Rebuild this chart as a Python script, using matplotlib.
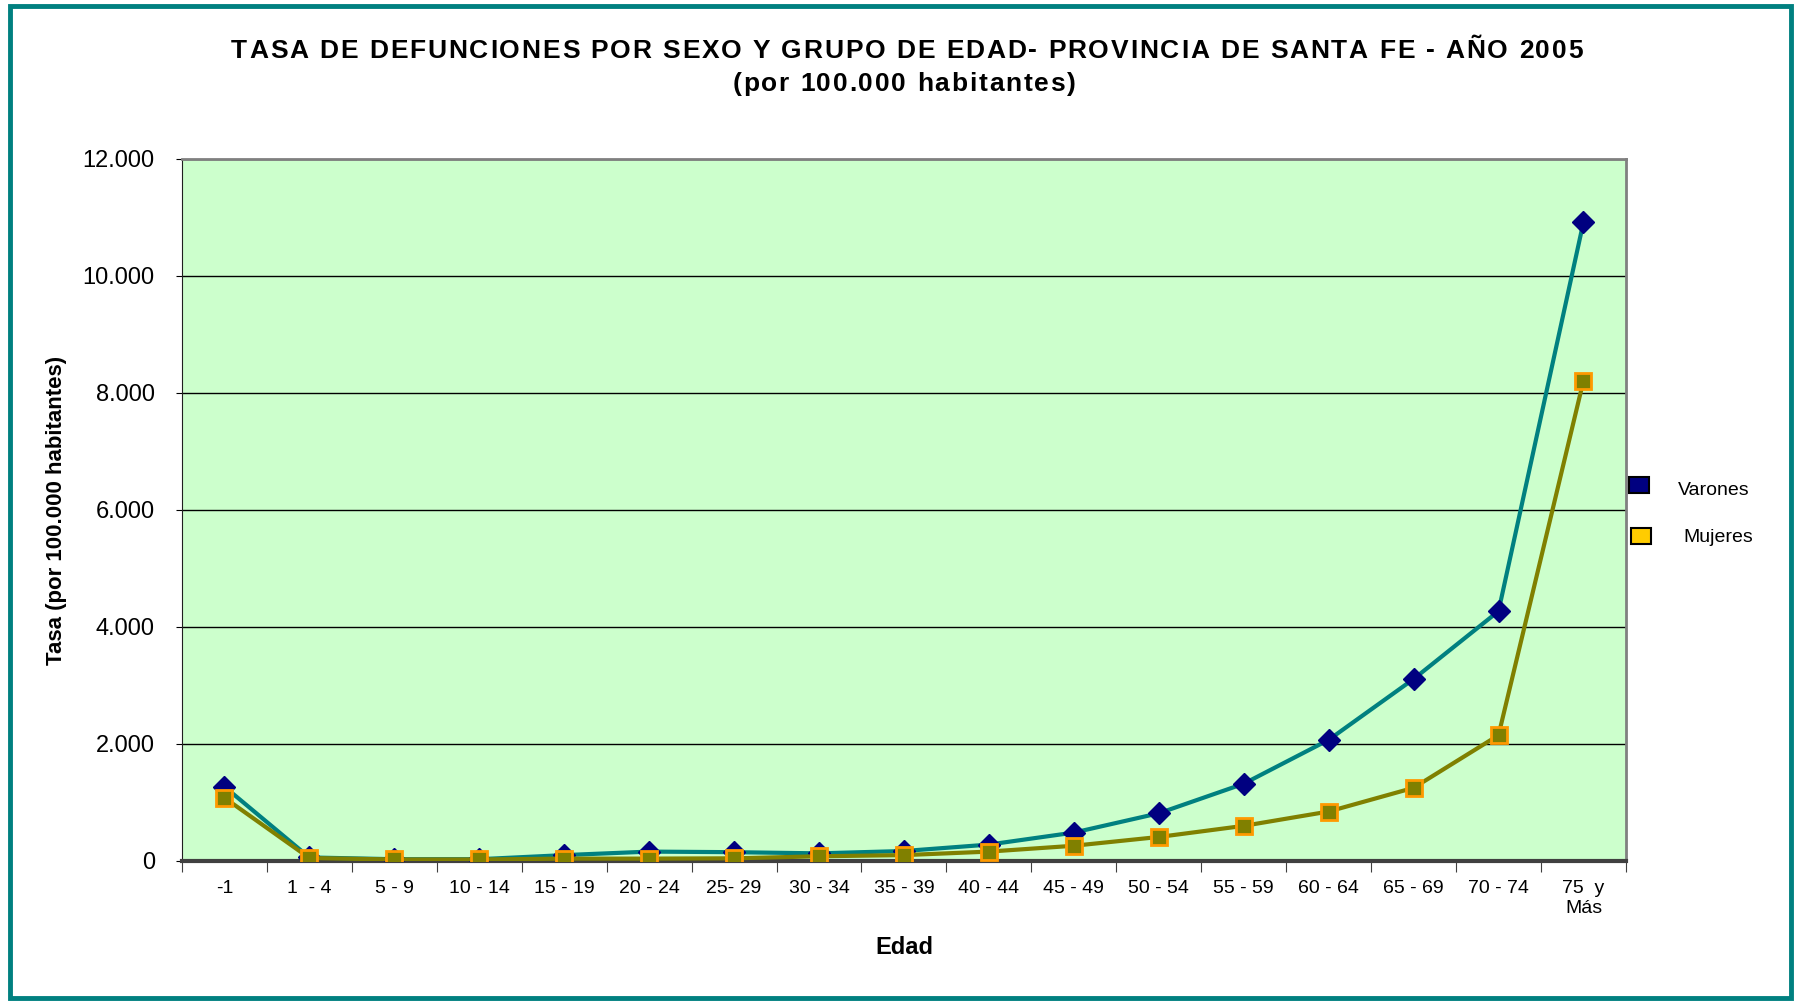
import matplotlib
matplotlib.use("Agg")
import matplotlib.pyplot as plt
from matplotlib.patches import Rectangle
from matplotlib.ticker import FuncFormatter, MultipleLocator
from matplotlib.font_manager import FontProperties

plt.rcParams['font.family'] = ['Liberation Sans', 'DejaVu Sans']

# datos
edades = ['-1', '1  - 4', '5 - 9', '10 - 14', '15 - 19', '20 - 24', '25- 29', '30 - 34',
          '35 - 39', '40 - 44', '45 - 49', '50 - 54', '55 - 59', '60 - 64', '65 - 69',
          '70 - 74', '75  y\nMás']
varones = [1270, 60, 30, 30, 100, 160, 150, 130, 170, 280, 485, 815, 1320, 2070, 3110, 4270, 10920]
mujeres = [1080, 50, 25, 25, 40, 40, 45, 80, 100, 160, 260, 410, 600, 845, 1250, 2150, 8210]
series = ['Varones', 'Mujeres']

W, H = 1798, 1001
fig = plt.figure(figsize=(W / 100, H / 100), dpi=100)
ax = fig.add_axes([0.1012, 0.1399, 0.8031, 0.7013])
ax.set_facecolor('#CCFFCC')

x = list(range(len(edades)))
ax.plot(x, varones, color='#008080', lw=3, marker='D', ms=11.5,
        markerfacecolor='#000080', markeredgecolor='#000080', zorder=3)
ax.plot(x, mujeres, color='#808000', lw=3, marker='s', ms=12,
        markerfacecolor='#808000', markeredgecolor='#FF9900', markeredgewidth=2, zorder=4)

ax.set_xlim(-0.5, len(edades) - 0.5)
ax.set_ylim(0, 12000)
ax.yaxis.set_major_locator(MultipleLocator(2000))
ax.yaxis.set_major_formatter(FuncFormatter(lambda v, p: f'{int(v):,}'.replace(',', '.')))
ax.grid(axis='y', color='black', lw=1)
ax.set_axisbelow(True)

# ticks en los bordes de las categorias, etiquetas centradas
ax.set_xticks([i - 0.5 for i in range(len(edades) + 1)])
ax.set_xticklabels([])
ax.set_xticks(x, minor=True)
ax.set_xticklabels(edades, minor=True, fontsize=14)
ax.tick_params(axis='x', which='minor', length=0, pad=14)
ax.tick_params(axis='x', which='major', length=8, direction='out', color='#404040')
ax.tick_params(axis='y', labelsize=17, length=4.5, direction='out', pad=15)

for s in ['top', 'right']:
    ax.spines[s].set_color('#808080')
    ax.spines[s].set_linewidth(2)
ax.spines['left'].set_color('#202020')
ax.spines['bottom'].set_color('#404040')
ax.spines['bottom'].set_linewidth(3)

ax.set_xlabel('Edad', fontsize=17, fontweight='bold', labelpad=14)
ax.set_ylabel('Tasa (por 100.000 habitantes)', fontsize=16, fontweight='bold', labelpad=11)


def tracked_text(s, xc, yc, size, track):
    # texto con espaciado entre letras, centrado en (xc, yc) en pixeles
    r = fig.canvas.get_renderer()
    prop = FontProperties(family='Liberation Sans', weight='bold', size=size)
    widths = [r.get_text_width_height_descent(c, prop, ismath=False)[0] for c in s]
    total = sum(widths) + track * (len(s) - 1)
    xp = xc - total / 2
    for c, w in zip(s, widths):
        fig.text(xp / W, 1 - yc / H, c, ha='left', va='center', fontproperties=prop)
        xp += w + track


tracked_text('TASA DE DEFUNCIONES POR SEXO Y GRUPO DE EDAD- PROVINCIA DE SANTA FE - AÑO 2005',
             907, 50.5, 19, 1.85)
tracked_text('(por 100.000 habitantes)', 904, 84, 19, 1.8)

# leyenda
leg_colors = ['#000080', '#FFCC00']
leg_marker = [(1629, 477), (1631, 528)]
leg_text = [(1678, 490), (1683, 537)]
for name, col, (mx, my), (tx, ty) in zip(series, leg_colors, leg_marker, leg_text):
    fig.add_artist(Rectangle((mx / W, 1 - (my + 16) / H), 20 / W, 16 / H,
                             transform=fig.transFigure, facecolor=col,
                             edgecolor='black', lw=1.5))
    fig.text(tx / W, 1 - ty / H, name, ha='left', va='center', fontsize=14)

fig.add_artist(Rectangle((0.0055, 0.003), 0.9905, 0.991, transform=fig.transFigure,
                         fill=False, edgecolor='#008080', lw=3.5))

fig.savefig('out.png', dpi=100)
